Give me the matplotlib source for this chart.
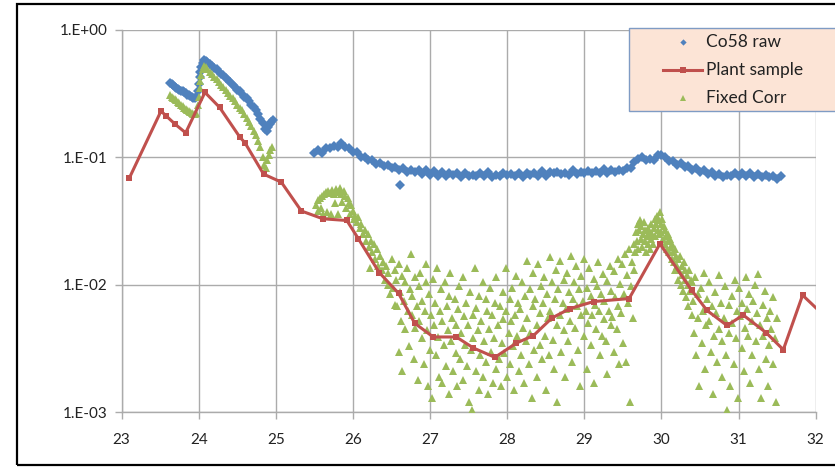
import numpy as np
import matplotlib
matplotlib.use("Agg")
import matplotlib.pyplot as plt
from matplotlib.ticker import FixedLocator, FuncFormatter
from matplotlib.lines import Line2D
from matplotlib.patches import Rectangle

plt.rcParams['font.family'] = ['Lato', 'DejaVu Sans']

# ---- data ----
# Co58 raw
co58_x = [23.63, 23.65, 23.67, 23.69, 23.71, 23.73, 23.75, 23.77, 23.79, 23.81, 23.83, 23.85,
          23.87, 23.89, 23.91, 23.93, 23.95, 23.97,
          23.99, 24.00, 24.01, 24.02, 24.03, 24.05, 24.07, 24.09, 24.11,
          24.14, 24.17, 24.20, 24.23, 24.26, 24.29, 24.32, 24.35, 24.38, 24.41, 24.44, 24.47,
          24.50, 24.53, 24.56, 24.59, 24.62, 24.65, 24.68, 24.71, 24.74, 24.77, 24.80, 24.83,
          24.86, 24.88, 24.90, 24.92, 24.94, 24.96,
          25.50, 25.55, 25.60, 25.65, 25.70, 25.75, 25.80, 25.85, 25.90, 25.95, 26.00, 26.05,
          26.10, 26.15, 26.20, 26.25, 26.30, 26.35, 26.40, 26.45, 26.50, 26.55, 26.60, 26.65,
          26.70, 26.75, 26.80, 26.85, 26.90, 26.95, 27.00, 27.05, 27.10, 27.15, 27.20, 27.25,
          27.30, 27.35, 27.40, 27.45, 27.50, 27.55, 27.60, 27.65, 27.70, 27.75, 27.80, 27.85,
          27.90, 27.95, 28.00, 28.05, 28.10, 28.15, 28.20, 28.25, 28.30, 28.35, 28.40, 28.45,
          28.50, 28.55, 28.60, 28.65, 28.70, 28.75, 28.80, 28.85, 28.90, 28.95, 29.00, 29.05,
          29.10, 29.15, 29.20, 29.25, 29.30, 29.35, 29.40, 29.45, 29.50, 29.55, 29.60, 29.65,
          29.70, 29.75, 29.80, 29.85, 29.90, 29.95, 30.00, 30.05, 30.10, 30.15, 30.20, 30.25,
          30.30, 30.35, 30.40, 30.45, 30.50, 30.55, 30.60, 30.65, 30.70, 30.75, 30.80, 30.85,
          30.90, 30.95, 31.00, 31.05, 31.10, 31.15, 31.20, 31.25, 31.30, 31.35, 31.40, 31.45,
          31.50, 31.55, 26.61]
co58_y = [0.385, 0.375, 0.37, 0.36, 0.352, 0.345, 0.34, 0.335, 0.33, 0.325, 0.318, 0.31,
          0.308, 0.302, 0.298, 0.292, 0.29, 0.30,
          0.33, 0.38, 0.43, 0.47, 0.51, 0.55, 0.58, 0.57, 0.56,
          0.545, 0.525, 0.505, 0.49, 0.47, 0.455, 0.44, 0.42, 0.405, 0.39, 0.37, 0.355,
          0.34, 0.33, 0.315, 0.30, 0.29, 0.275, 0.26, 0.25, 0.235, 0.22, 0.20, 0.185,
          0.168, 0.16, 0.172, 0.182, 0.19, 0.197,
          0.108, 0.114, 0.108, 0.119, 0.118, 0.122, 0.121, 0.129, 0.121, 0.119, 0.110, 0.110,
          0.100, 0.101, 0.095, 0.096, 0.089, 0.091, 0.085, 0.088, 0.082, 0.084, 0.079, 0.082,
          0.077, 0.080, 0.077, 0.079, 0.074, 0.079, 0.073, 0.078, 0.072, 0.077, 0.071, 0.076,
          0.073, 0.075, 0.070, 0.076, 0.071, 0.073, 0.072, 0.076, 0.071, 0.077, 0.070, 0.073,
          0.072, 0.075, 0.073, 0.074, 0.072, 0.075, 0.070, 0.076, 0.073, 0.075, 0.072, 0.078,
          0.072, 0.077, 0.075, 0.077, 0.074, 0.076, 0.073, 0.079, 0.074, 0.077, 0.075, 0.078,
          0.076, 0.078, 0.075, 0.081, 0.075, 0.080, 0.077, 0.080, 0.078, 0.083, 0.082, 0.092,
          0.098, 0.101, 0.096, 0.097, 0.096, 0.105, 0.104, 0.101, 0.093, 0.094, 0.088, 0.090,
          0.084, 0.085, 0.080, 0.082, 0.077, 0.079, 0.074, 0.077, 0.071, 0.074, 0.070, 0.073,
          0.072, 0.075, 0.072, 0.076, 0.071, 0.075, 0.070, 0.074, 0.070, 0.073, 0.070, 0.072,
          0.068, 0.071, 0.061]

# Plant sample
plant_x = [23.10, 23.51, 23.58, 23.69, 23.83, 24.08, 24.27, 24.53, 24.60, 24.84, 25.07,
           25.33, 25.61, 25.92, 26.07, 26.34, 26.59, 26.80, 27.04, 27.34, 27.56, 27.84,
           28.12, 28.34, 28.58, 28.81, 29.12, 29.58, 29.98, 30.39, 30.59, 30.85, 31.06,
           31.36, 31.58, 31.83, 32.05]
plant_y = [0.069, 0.231, 0.211, 0.183, 0.156, 0.324, 0.247, 0.145, 0.130, 0.074, 0.064,
           0.038, 0.033, 0.032, 0.023, 0.0125, 0.0086, 0.0050, 0.0039, 0.0039, 0.0032, 0.0027,
           0.0035, 0.0040, 0.0055, 0.0065, 0.0074, 0.0078, 0.021, 0.0091, 0.0063, 0.0048, 0.0058,
           0.0042, 0.0031, 0.0083, 0.0062]

# Fixed Corr
fixed_x = [23.63, 23.65, 23.67, 23.69, 23.71, 23.73, 23.75, 23.77, 23.79, 23.81, 23.83, 23.85,
           23.87, 23.89, 23.91, 23.93, 23.95, 23.97,
           23.99, 24.00, 24.01, 24.02, 24.03, 24.05, 24.07, 24.09, 24.11,
           24.14, 24.17, 24.20, 24.23, 24.26, 24.29, 24.32, 24.35, 24.38, 24.41, 24.44, 24.47,
           24.50, 24.53, 24.56, 24.59, 24.62, 24.65, 24.68, 24.71, 24.74, 24.77, 24.80, 24.83,
           24.85, 24.87, 24.89, 24.91, 24.93, 24.95,
           25.52, 25.54, 25.55, 25.57, 25.58, 25.60, 25.61, 25.63, 25.65, 25.66, 25.68, 25.70,
           25.71, 25.73, 25.75, 25.76, 25.78, 25.80, 25.81, 25.83, 25.85, 25.86, 25.88, 25.90,
           25.91, 25.93, 25.95, 25.96, 25.98, 26.00, 26.01, 26.03, 26.05, 26.07, 26.09, 26.11,
           26.13, 26.15, 26.17, 26.19, 26.21, 26.23, 26.25, 26.27, 26.29, 26.31, 26.33, 26.35,
           26.37, 26.39, 26.41, 26.43, 26.45, 26.22,
           26.46, 26.48, 26.50, 26.52, 26.54, 26.55,
           26.56, 26.57, 26.59, 26.60, 26.61, 26.62, 26.63, 26.64,
           26.66, 26.67, 26.68, 26.70, 26.71, 26.72, 26.74, 26.75,
           26.76, 26.77, 26.79, 26.80, 26.81, 26.83, 26.84, 26.85,
           26.86, 26.87, 26.89, 26.90, 26.92, 26.93, 26.94, 26.95,
           26.96, 26.97, 26.99, 27.00, 27.01, 27.02, 27.04, 27.05,
           27.06, 27.07, 27.09, 27.10, 27.11, 27.13, 27.14, 27.15,
           27.16, 27.18, 27.19, 27.20, 27.22, 27.23, 27.24, 27.25,
           27.26, 27.27, 27.29, 27.30, 27.32, 27.33, 27.34, 27.35,
           27.36, 27.38, 27.39, 27.40, 27.42, 27.43, 27.44, 27.45,
           27.46, 27.48, 27.49, 27.50, 27.52, 27.53, 27.54, 27.55,
           27.56, 27.58, 27.59, 27.60, 27.62, 27.63, 27.64, 27.65,
           27.66, 27.68, 27.69, 27.70, 27.72, 27.73, 27.74, 27.75,
           27.76, 27.78, 27.79, 27.80, 27.82, 27.83, 27.84, 27.85,
           27.86, 27.88, 27.89, 27.90, 27.92, 27.93, 27.94, 27.95,
           27.96, 27.98, 27.99, 28.00, 28.02, 28.03, 28.04, 28.05,
           28.06, 28.08, 28.09, 28.10, 28.12, 28.13, 28.14, 28.15,
           28.16, 28.18, 28.19, 28.20, 28.22, 28.23, 28.24, 28.25,
           28.26, 28.28, 28.29, 28.30, 28.32, 28.33, 28.34, 28.35,
           28.36, 28.38, 28.39, 28.40, 28.42, 28.43, 28.44, 28.45,
           28.46, 28.48, 28.49, 28.50, 28.52, 28.53, 28.54, 28.55,
           28.56, 28.58, 28.59, 28.60, 28.62, 28.63, 28.64, 28.65,
           28.66, 28.68, 28.69, 28.70, 28.72, 28.73, 28.74, 28.75,
           28.76, 28.78, 28.79, 28.80, 28.82, 28.83, 28.84, 28.85,
           28.86, 28.88, 28.89, 28.90, 28.92, 28.93, 28.94, 28.95,
           28.96, 28.98, 28.99, 29.00, 29.02, 29.03, 29.04, 29.05,
           29.06, 29.08, 29.09, 29.10, 29.12, 29.13, 29.14, 29.15,
           29.16, 29.18, 29.19, 29.20, 29.22, 29.23, 29.24, 29.25,
           29.26, 29.28, 29.29, 29.30, 29.32, 29.33, 29.34, 29.35,
           29.36, 29.38, 29.39, 29.40, 29.42, 29.43, 29.44, 29.45,
           29.46, 29.48, 29.49, 29.50, 29.52, 29.53, 29.54, 29.55,
           29.56, 29.58, 29.59, 29.60, 29.62, 29.63, 29.64, 29.65,
           29.66, 29.67, 29.68, 29.69, 29.70, 29.71, 29.72, 29.73, 29.74, 29.75,
           29.76, 29.77, 29.78, 29.79, 29.80, 29.81, 29.82, 29.83, 29.84, 29.85,
           29.86, 29.87, 29.88, 29.89, 29.90, 29.91, 29.92, 29.93, 29.94, 29.95,
           29.96, 29.97, 29.98, 29.99, 30.00, 30.01, 30.02, 30.03, 30.04, 30.05,
           30.06, 30.07, 30.08, 30.09, 30.10, 30.11, 30.12, 30.13, 30.14, 30.15,
           30.16, 30.17, 30.18, 30.19, 30.20, 30.21, 30.22, 30.23, 30.24, 30.25,
           30.26, 30.27, 30.28, 30.29, 30.30, 30.31, 30.32, 30.33, 30.34, 30.35,
           30.36, 30.37, 30.38, 30.39, 30.40,
           30.41, 30.42, 30.44, 30.45, 30.47, 30.48, 30.49,
           30.51, 30.52, 30.54, 30.55, 30.57, 30.58, 30.59,
           30.61, 30.62, 30.64, 30.65, 30.67, 30.68, 30.69,
           30.71, 30.72, 30.74, 30.75, 30.77, 30.78, 30.79,
           30.81, 30.82, 30.84, 30.85, 30.87, 30.88, 30.89,
           30.91, 30.92, 30.94, 30.95, 30.97, 30.98, 30.99,
           31.01, 31.02, 31.04, 31.05, 31.07, 31.08, 31.09,
           31.11, 31.12, 31.14, 31.15, 31.17, 31.18, 31.19,
           31.21, 31.22, 31.24, 31.25, 31.27, 31.28, 31.29,
           31.31, 31.32, 31.34, 31.35, 31.37, 31.38, 31.39,
           31.41, 31.42, 31.44, 31.45, 31.47, 31.48, 31.50]
fixed_y = [0.31, 0.30, 0.295, 0.285, 0.28, 0.272, 0.265, 0.26, 0.252, 0.246, 0.24, 0.235,
           0.23, 0.226, 0.222, 0.218, 0.22, 0.225,
           0.26, 0.30, 0.35, 0.40, 0.44, 0.49, 0.52, 0.51, 0.49,
           0.47, 0.45, 0.43, 0.41, 0.39, 0.37, 0.355, 0.34, 0.32, 0.305, 0.29, 0.275,
           0.26, 0.245, 0.235, 0.22, 0.205, 0.19, 0.175, 0.16, 0.15, 0.135, 0.12, 0.10,
           0.088, 0.083, 0.095, 0.105, 0.115, 0.12,
           0.042, 0.046, 0.038, 0.048, 0.040, 0.050, 0.036, 0.052, 0.054, 0.037, 0.055, 0.053,
           0.036, 0.056, 0.052, 0.044, 0.057, 0.054, 0.036, 0.058, 0.052, 0.045, 0.055, 0.050,
           0.040, 0.048, 0.044, 0.036, 0.042, 0.038, 0.033, 0.035, 0.031, 0.034, 0.028, 0.030,
           0.025, 0.027, 0.022, 0.025, 0.020, 0.022, 0.018, 0.021, 0.016, 0.019, 0.014, 0.017,
           0.013, 0.015, 0.011, 0.014, 0.010, 0.0135,
           0.0125, 0.0085, 0.016, 0.0095, 0.007, 0.013,
           0.011, 0.0068, 0.0145, 0.0030, 0.0088, 0.0052, 0.0021, 0.0118,
           0.0075, 0.0105, 0.0045, 0.0135, 0.0062, 0.0033, 0.0092, 0.0175,
           0.0058, 0.0082, 0.0026, 0.0115, 0.0046, 0.0068, 0.0018, 0.0098,
           0.0052, 0.0125, 0.0038, 0.0075, 0.0024, 0.0062, 0.0105, 0.0145,
           0.0044, 0.0016, 0.0085, 0.0031, 0.0058, 0.0013, 0.0112, 0.0048,
           0.0072, 0.0028, 0.0135, 0.0039, 0.0019, 0.0062, 0.0092, 0.0017,
           0.0052, 0.0034, 0.0105, 0.0023, 0.0068, 0.0044, 0.0014, 0.0082,
           0.0125, 0.0036, 0.0055, 0.0021, 0.0078, 0.0029, 0.0048, 0.0016,
           0.0065, 0.0098, 0.0026, 0.0042, 0.0115, 0.0018, 0.0057, 0.0034,
           0.0072, 0.0023, 0.0048, 0.0012, 0.0088, 0.0031, 0.00105, 0.0058,
           0.0038, 0.0135, 0.0021, 0.0066, 0.0044, 0.0015, 0.0082, 0.0028,
           0.0052, 0.0105, 0.0019, 0.0036, 0.0078, 0.0025, 0.0062, 0.0014,
           0.0045, 0.0095, 0.0030, 0.0058, 0.0017, 0.0038, 0.0072, 0.0022,
           0.0115, 0.0048, 0.0026, 0.0068, 0.0016, 0.0035, 0.0088, 0.0054,
           0.0029, 0.0135, 0.0062, 0.0019, 0.0042, 0.0078, 0.0024, 0.0052,
           0.0095, 0.0033, 0.0015, 0.0058, 0.0118, 0.0040, 0.0072, 0.0021,
           0.0065, 0.0028, 0.0105, 0.0046, 0.0017, 0.0082, 0.0036, 0.0155,
           0.0055, 0.0024, 0.0092, 0.0042, 0.0013, 0.0068, 0.0125, 0.0031,
           0.0078, 0.0048, 0.0019, 0.0145, 0.0060, 0.0034, 0.0098, 0.0026,
           0.0072, 0.0115, 0.0040, 0.0015, 0.0085, 0.0055, 0.0028, 0.0165,
           0.0062, 0.0105, 0.0037, 0.0022, 0.0078, 0.0130, 0.0048, 0.0012,
           0.0092, 0.0058, 0.0155, 0.0030, 0.0072, 0.0110, 0.0044, 0.0019,
           0.0065, 0.0125, 0.0036, 0.0088, 0.0052, 0.0170, 0.0025, 0.0078,
           0.0105, 0.0046, 0.0140, 0.0068, 0.0031, 0.0092, 0.0016, 0.0058,
           0.0118, 0.0075, 0.0040, 0.0160, 0.0062, 0.0022, 0.0095, 0.0050,
           0.0135, 0.0082, 0.0034, 0.0058, 0.0112, 0.0017, 0.0070, 0.0045,
           0.0098, 0.0150, 0.0062, 0.0028, 0.0085, 0.0040, 0.0122, 0.0054,
           0.0075, 0.0036, 0.0108, 0.0020, 0.0062, 0.0140, 0.0048, 0.0090,
           0.0056, 0.0128, 0.0030, 0.0080, 0.0045, 0.0160, 0.0068, 0.0024,
           0.0102, 0.0060, 0.0145, 0.0035, 0.0085, 0.0175, 0.0025, 0.0120,
           0.0072, 0.0190, 0.0012, 0.0098, 0.0150, 0.0055, 0.0210, 0.0130,
           0.018, 0.026, 0.022, 0.030, 0.019, 0.027, 0.032, 0.023, 0.029, 0.020,
           0.025, 0.031, 0.022, 0.027, 0.018, 0.024, 0.028, 0.021, 0.026, 0.019,
           0.023, 0.030, 0.025, 0.021, 0.028, 0.033, 0.024, 0.030, 0.035, 0.027,
           0.032, 0.025, 0.037, 0.030, 0.026, 0.033, 0.023, 0.029, 0.021, 0.027,
           0.024, 0.019, 0.025, 0.022, 0.018, 0.023, 0.020, 0.016, 0.021, 0.018,
           0.015, 0.019, 0.013, 0.017, 0.014, 0.011, 0.016, 0.013, 0.017, 0.010,
           0.014, 0.012, 0.009, 0.015, 0.011, 0.013, 0.008, 0.012, 0.010, 0.0068,
           0.013, 0.009, 0.011, 0.0058, 0.0105,
           0.0075, 0.0042, 0.0115, 0.0028, 0.0085, 0.0055, 0.0016,
           0.0095, 0.0035, 0.0062, 0.0125, 0.0022, 0.0048, 0.0078,
           0.0052, 0.0105, 0.0030, 0.0068, 0.0014, 0.0040, 0.0088,
           0.0060, 0.0025, 0.0120, 0.0045, 0.0072, 0.0019, 0.0036,
           0.0055, 0.0098, 0.0028, 0.00105, 0.0042, 0.0070, 0.0016,
           0.0082, 0.0050, 0.0024, 0.0110, 0.0038, 0.0062, 0.0013,
           0.0095, 0.0057, 0.0032, 0.0072, 0.0021, 0.0046, 0.0115,
           0.0065, 0.0040, 0.0085, 0.0017, 0.0052, 0.0028, 0.0075,
           0.0100, 0.0036, 0.0060, 0.0122, 0.0022, 0.0048, 0.0013,
           0.0070, 0.0040, 0.0090, 0.0026, 0.0055, 0.0016, 0.0034,
           0.0062, 0.0045, 0.0080, 0.0024, 0.0038, 0.0012, 0.0055]

x_ticks = [23, 24, 25, 26, 27, 28, 29, 30, 31, 32]
y_ticks = [1e-3, 1e-2, 1e-1, 1e0]
y_tick_labels = ["1.E-03", "1.E-02", "1.E-01", "1.E+00"]
legend_labels = ["Co58 raw", "Plant sample", "Fixed Corr"]

blue = "#4F81BD"
red = "#C0504D"
green = "#9BBB59"
grid_col = "#ABABAB"

W, H = 835, 467
fig = plt.figure(figsize=(W / 100, H / 100), dpi=100)
ax = fig.add_axes([0.1457, 0.1171, 0.8312, 0.8187])

ax.plot(co58_x, co58_y, linestyle="none", marker="D", markersize=5.6,
        color=blue, markeredgewidth=0, zorder=3)
ax.plot(fixed_x, fixed_y, linestyle="none", marker="^", markersize=6.2,
        color=green, markeredgewidth=0, zorder=4)
ax.plot(plant_x, plant_y, color=red, linewidth=2.2, marker="s", markersize=5,
        markeredgewidth=0, zorder=5)

ax.set_yscale("log")
ax.set_xlim(23, 32)
ax.set_ylim(1e-3, 1e0)
ax.xaxis.set_major_locator(FixedLocator(x_ticks))
ax.yaxis.set_major_locator(FixedLocator(y_ticks))
ax.yaxis.set_minor_locator(FixedLocator([]))
ax.yaxis.set_major_formatter(FuncFormatter(lambda v, p: y_tick_labels[y_ticks.index(v)] if v in y_ticks else ""))
ax.xaxis.set_major_formatter(FuncFormatter(lambda v, p: "%d" % v))

ax.grid(True, color=grid_col, linewidth=1.0)
ax.set_axisbelow(True)
for side in ["top", "right"]:
    ax.spines[side].set_visible(False)
for side in ["left", "bottom"]:
    ax.spines[side].set_color(grid_col)
    ax.spines[side].set_linewidth(1.0)
ax.tick_params(axis="both", colors=grid_col, labelcolor="#222222", labelsize=11, length=5, width=1)
ax.tick_params(axis="y", pad=5)
ax.tick_params(axis="x", pad=10)

# legend drawn by hand (pixel positions from the top-left of the figure)
def px(x, y):
    return x / W, 1 - y / H

lx0, ly0, lx1, ly1 = 629, 28, 860, 111
fig.patches.append(Rectangle(px(lx0, ly1), (lx1 - lx0) / W, (ly1 - ly0) / H,
                             transform=fig.transFigure, facecolor="#FCE4D6",
                             edgecolor="#7F9BC4", linewidth=1.0, zorder=10))
rows = [42, 70, 98]
mx, my = px(683, rows[0])
fig.add_artist(Line2D([mx], [my], transform=fig.transFigure, marker="D", markersize=3.2,
                      color=blue, markeredgewidth=0, linestyle="none", zorder=11))
x0, yr = px(663, rows[1])
x1, _ = px(702, rows[1])
fig.add_artist(Line2D([x0, x1], [yr, yr], transform=fig.transFigure, color=red, linewidth=2.2,
                      zorder=11))
fig.add_artist(Line2D([(x0 + x1) / 2], [yr], transform=fig.transFigure, marker="s",
                      markersize=4.5, color=red, markeredgewidth=0, linestyle="none", zorder=11))
mx, my = px(683, rows[2])
fig.add_artist(Line2D([mx], [my], transform=fig.transFigure, marker="^", markersize=4.2,
                      color=green, markeredgewidth=0, linestyle="none", zorder=11))
for r, lab in zip(rows, legend_labels):
    tx, ty = px(706, r)
    fig.text(tx, ty, lab, ha="left", va="center", fontsize=12.5, color="#222222", zorder=12)

# outer chart border
fig.patches.append(Rectangle((17 / W, 2 / H), 1.0, 461 / H, transform=fig.transFigure,
                             fill=False, edgecolor="black", linewidth=1.6, zorder=0))

fig.savefig("out.png", dpi=100)
